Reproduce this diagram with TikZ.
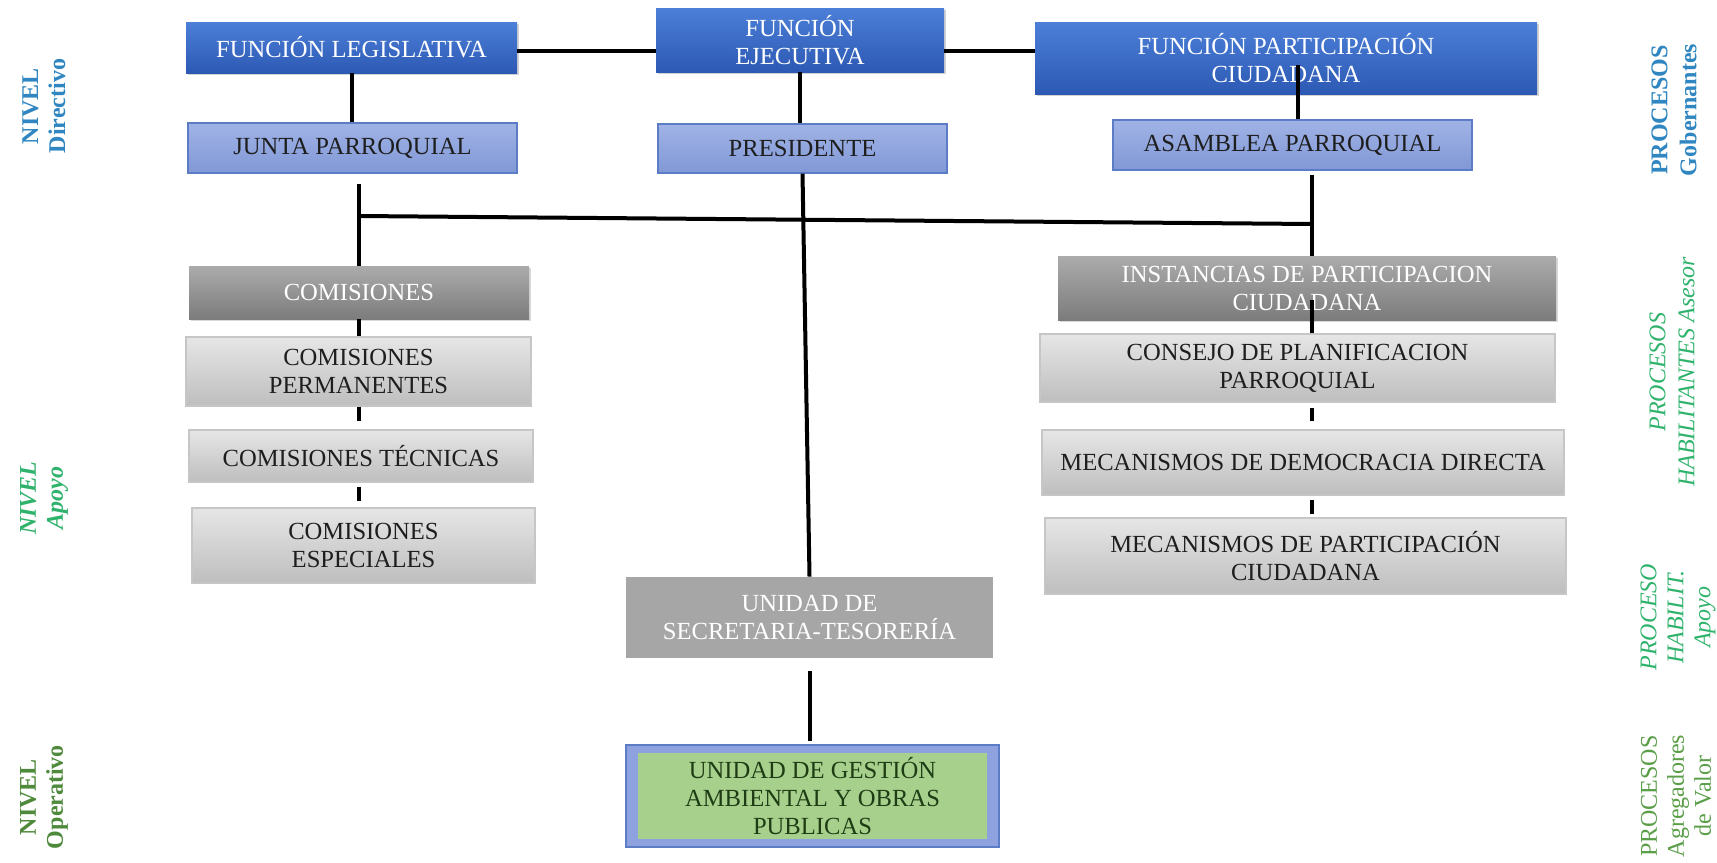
\documentclass[tikz,border=0pt]{standalone}
\usepackage{fontspec}
\setmainfont{Liberation Serif}
\usetikzlibrary{shadows,calc}
\definecolor{topA}{HTML}{4C7FD8}
\definecolor{topB}{HTML}{2C59B3}
\definecolor{lbA}{HTML}{A0B3E6}
\definecolor{lbB}{HTML}{8198D6}
\definecolor{lbD}{HTML}{5C7CC6}
\definecolor{dgA}{HTML}{ABABAB}
\definecolor{dgB}{HTML}{7C7C7C}
\definecolor{lgA}{HTML}{E6E6E6}
\definecolor{lgB}{HTML}{BEBEBE}
\definecolor{lgD}{HTML}{C6C6C6}
\definecolor{secG}{HTML}{A6A6A6}
\definecolor{ugaO}{HTML}{8DA2DE}
\definecolor{ugaI}{HTML}{A8D08D}
\definecolor{txtD}{HTML}{1E1E1E}
\definecolor{txtG}{HTML}{1F3D14}
\definecolor{labBlue}{HTML}{2F86C0}
\definecolor{labGreen}{HTML}{2FB36C}
\definecolor{labDGreen}{HTML}{4F8A3C}
\definecolor{labMGreen}{HTML}{5A9E48}
\tikzset{
  box/.style={rectangle, align=center, inner sep=2pt, font=\fontsize{12.3}{14}\selectfont},
  topbox/.style={box, top color=topA, bottom color=topB, text=white,
     drop shadow={opacity=0.35, shadow xshift=1.2pt, shadow yshift=-1.2pt}},
  lbbox/.style={box, top color=lbA, bottom color=lbB, draw=lbD, line width=0.6pt, text=txtD},
  dgbox/.style={box, top color=dgA, bottom color=dgB, text=white,
     drop shadow={opacity=0.3, shadow xshift=1.2pt, shadow yshift=-1.2pt}},
  lgbox/.style={box, top color=lgA, bottom color=lgB, draw=lgD, line width=0.6pt, text=txtD},
  secbox/.style={box, fill=secG, text=white},
  ugabox/.style={box, fill=ugaO, draw=lbD, line width=0.8pt, text=txtG,
     path picture={\fill[ugaI] ([xshift=6pt,yshift=-4pt]path picture bounding box.north west) rectangle ([xshift=-6pt,yshift=4pt]path picture bounding box.south east);}},
  conn/.style={line width=2pt, black},
  sidelab/.style={rotate=90, align=center, font=\fontsize{12}{13.5}\selectfont}
}
\begin{document}
\begin{tikzpicture}[x=0.5pt,y=-0.5pt]
\useasboundingbox[fill=white] (0,0) rectangle (1717,862);
% top row
\node[topbox, minimum width=165.5pt, minimum height=25.5pt] (leg) at (351.5,47.5) {FUNCIÓN LEGISLATIVA};
\node[topbox, minimum width=144pt, minimum height=32pt] (eje) at (800,40) {FUNCIÓN\\EJECUTIVA};
\node[topbox, minimum width=251pt, minimum height=36pt] (par) at (1286,58) {FUNCIÓN PARTICIPACIÓN\\CIUDADANA};
% second row
\node[lbbox, minimum width=164.5pt, minimum height=25pt] (junta) at (352.5,148) {JUNTA PARROQUIAL};
\node[lbbox, minimum width=144.5pt, minimum height=24.5pt] (pres) at (802.5,148.5) {PRESIDENTE};
\node[lbbox, minimum width=179.5pt, minimum height=25pt] (asam) at (1292.5,145) {ASAMBLEA PARROQUIAL};
% left column
\node[dgbox, minimum width=170pt, minimum height=26.5pt] (com) at (359,292.5) {COMISIONES};
\node[lgbox, minimum width=172.5pt, minimum height=34.5pt] (comp) at (358.5,371.5) {COMISIONES\\PERMANENTES};
\node[lgbox, minimum width=172pt, minimum height=26pt] (comt) at (361,456) {COMISIONES TÉCNICAS};
\node[lgbox, minimum width=171.5pt, minimum height=37.5pt] (come) at (363.5,545.5) {COMISIONES\\ESPECIALES};
% right column
\node[dgbox, minimum width=249pt, minimum height=32pt] (inst) at (1307,288) {INSTANCIAS DE PARTICIPACION\\CIUDADANA};
\node[lgbox, minimum width=257.5pt, minimum height=34pt] (cons) at (1297.5,368) {CONSEJO DE PLANIFICACION\\PARROQUIAL};
\node[lgbox, minimum width=261pt, minimum height=32.5pt] (mdd) at (1303,462.5) {MECANISMOS DE DEMOCRACIA DIRECTA};
\node[lgbox, minimum width=260.5pt, minimum height=38pt] (mpc) at (1305.5,556) {MECANISMOS DE PARTICIPACIÓN\\CIUDADANA};
% centre column
\node[secbox, minimum width=183.5pt, minimum height=40.5pt] (sec) at (809.5,617.5) {UNIDAD DE\\SECRETARIA-TESORERÍA};
\node[ugabox, minimum width=186.5pt, minimum height=51pt] (uga) at (812.5,796) {UNIDAD DE GESTIÓN\\AMBIENTAL Y OBRAS\\PUBLICAS};
% column reference points
\coordinate (lx) at (com.north);
\coordinate (rx) at ([xshift=2.5pt]inst.north);
% connectors
\draw[conn] (leg.east |- 0,51) -- (eje.west |- 0,51);
\draw[conn] (eje.east |- 0,51) -- (par.west |- 0,51);
\draw[conn] (leg.south) -- (leg.south |- junta.north);
\draw[conn] (eje.south) -- (eje.south |- pres.north);
\draw[conn] ([xshift=2.5pt]asam.north) -- ++(0,-54);
\draw[conn, shorten <=5pt] (lx |- junta.south) -- (lx);
\draw[conn, shorten <=2pt] (rx |- asam.south) -- (rx);
\draw[conn] (lx |- 0,216) -- (rx |- 0,224);
\draw[conn] (pres.south) -- (sec.north);
\draw[conn] (com.south) -- (lx |- comp.north);
\draw[conn, shorten >=4pt] (lx |- comp.south) -- (lx |- comt.north);
\draw[conn, shorten <=2pt, shorten >=3pt] (lx |- comt.south) -- (lx |- come.north);
\draw[conn] (rx |- cons.north) -- ++(0,-33);
\draw[conn, shorten <=2.5pt, shorten >=4pt] (rx |- cons.south) -- (rx |- mdd.north);
\draw[conn, shorten <=2pt, shorten >=1.5pt] (rx |- mdd.south) -- (rx |- mpc.north);
\draw[conn, shorten <=6.5pt, shorten >=1.5pt] (sec.south) -- (sec.south |- uga.north);
% side labels
\node[sidelab, text=labBlue, font=\fontsize{12}{13.5}\selectfont\bfseries] (l1) at (44,106) {NIVEL\\Directivo};
\node[sidelab, text=labGreen, font=\fontsize{12}{13.5}\selectfont\bfseries\itshape] (l2) at (44,498) {NIVEL\\Apoyo};
\node[sidelab, text=labDGreen, font=\fontsize{12}{13.5}\selectfont\bfseries] (l3) at (44,797) {NIVEL\\Operativo};
\node[sidelab, text=labBlue, font=\fontsize{12}{14.5}\selectfont\bfseries] (r1) at (1674,110) {PROCESOS\\Gobernantes};
\node[sidelab, text=labGreen, font=\fontsize{12}{14.5}\selectfont\itshape] (r2) at (1672,372) {PROCESOS\\HABILITANTES Asesor};
\node[sidelab, text=labGreen, font=\fontsize{12}{13.5}\selectfont\itshape] (r3) at (1678,617) {PROCESO\\HABILIT.\\Apoyo};
\node[sidelab, text=labMGreen] (r4) at (1676,796) {PROCESOS\\Agregadores\\de Valor};
\end{tikzpicture}
\end{document}
